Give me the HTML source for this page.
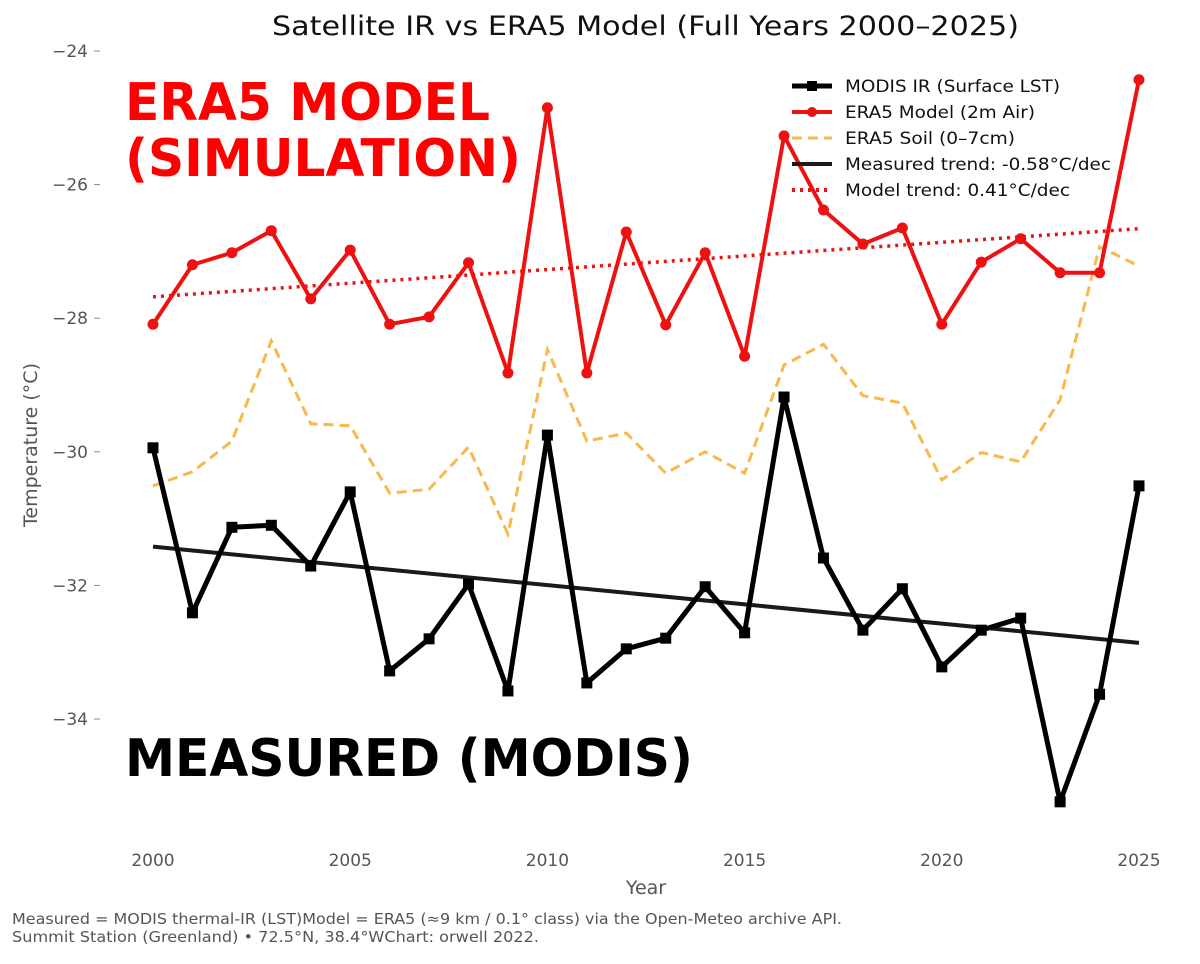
<!DOCTYPE html>
<html><head><meta charset="utf-8"><style>
body{margin:0;background:#fff;}
svg text{font-family:"DejaVu Sans","Liberation Sans",sans-serif;}
</style></head><body>
<svg id="chart" width="1200" height="959" viewBox="0 0 1200 959">
<text x="272" y="35" font-size="27" textLength="747" lengthAdjust="spacingAndGlyphs" fill="#111">Satellite IR vs ERA5 Model (Full Years 2000–2025)</text>
<g id="axes"></g>
<g id="series"></g>
<text x="125" y="120" font-size="52" font-weight="bold" textLength="365" lengthAdjust="spacingAndGlyphs" fill="#ff0000">ERA5 MODEL</text>
<text x="125" y="176" font-size="52" font-weight="bold" textLength="396" lengthAdjust="spacingAndGlyphs" fill="#ff0000">(SIMULATION)</text>
<text x="125" y="776" font-size="52" font-weight="bold" textLength="568" lengthAdjust="spacingAndGlyphs" fill="#000">MEASURED (MODIS)</text>
<text x="646" y="894" font-size="19" text-anchor="middle" fill="#555">Year</text>
<text transform="translate(37,445) rotate(-90)" font-size="19" text-anchor="middle" fill="#555">Temperature (°C)</text>
<text x="12" y="924" font-size="15" textLength="830" lengthAdjust="spacingAndGlyphs" fill="#555">Measured = MODIS thermal-IR (LST)Model = ERA5 (≈9 km / 0.1° class) via the Open-Meteo archive API.</text>
<text x="12" y="942" font-size="15" textLength="527" lengthAdjust="spacingAndGlyphs" fill="#555">Summit Station (Greenland) • 72.5°N, 38.4°WChart: orwell 2022.</text>
<g>
<line x1="792" y1="86" x2="832" y2="86" stroke="#000" stroke-width="5"/><rect x="807" y="81" width="10" height="10" fill="#000"/>
<text x="845" y="92" font-size="17" textLength="215" lengthAdjust="spacingAndGlyphs" fill="#111">MODIS IR (Surface LST)</text>
<line x1="792" y1="112" x2="832" y2="112" stroke="#ee1111" stroke-width="4"/><circle cx="812" cy="112" r="5" fill="#ee1111"/>
<text x="845" y="118" font-size="17" textLength="190" lengthAdjust="spacingAndGlyphs" fill="#111">ERA5 Model (2m Air)</text>
<line x1="792" y1="138" x2="832" y2="138" stroke="#f8b84a" stroke-width="3" stroke-dasharray="10,6"/>
<text x="845" y="144" font-size="17" textLength="170" lengthAdjust="spacingAndGlyphs" fill="#111">ERA5 Soil (0–7cm)</text>
<line x1="792" y1="164" x2="832" y2="164" stroke="#1a1a1a" stroke-width="4"/>
<text x="845" y="170" font-size="17" textLength="266" lengthAdjust="spacingAndGlyphs" fill="#111">Measured trend: -0.58°C/dec</text>
<line x1="792" y1="190" x2="832" y2="190" stroke="#ee1111" stroke-width="4" stroke-dasharray="3,5"/>
<text x="845" y="196" font-size="17" textLength="225" lengthAdjust="spacingAndGlyphs" fill="#111">Model trend: 0.41°C/dec</text>
</g>
</svg>
<script>
const years=[2000,2001,2002,2003,2004,2005,2006,2007,2008,2009,2010,2011,2012,2013,2014,2015,2016,2017,2018,2019,2020,2021,2022,2023,2024,2025];
const modis=[-29.94,-32.41,-31.13,-31.10,-31.71,-30.60,-33.28,-32.80,-31.98,-33.58,-29.75,-33.46,-32.95,-32.79,-32.02,-32.71,-29.18,-31.59,-32.67,-32.05,-33.22,-32.67,-32.49,-35.24,-33.63,-30.51];
const era5Air=[-28.09,-27.20,-27.02,-26.69,-27.71,-26.98,-28.09,-27.98,-27.17,-28.82,-24.85,-28.82,-26.71,-28.10,-27.02,-28.57,-25.27,-26.38,-26.89,-26.65,-28.09,-27.16,-26.81,-27.32,-27.32,-24.43];
const era5Soil=[-30.51,-30.30,-29.84,-28.34,-29.58,-29.61,-30.62,-30.56,-29.93,-31.23,-28.47,-29.84,-29.72,-30.32,-30.00,-30.32,-28.70,-28.39,-29.16,-29.27,-30.42,-30.01,-30.15,-29.22,-26.93,-27.22];
const measuredTrend=[-31.42,-32.86];
const modelTrend=[-27.68,-26.66];
const xTicks=[2000,2005,2010,2015,2020,2025];
const yTicks=[-24,-26,-28,-30,-32,-34];
const X=v=>153+(v-2000)*39.44;
const Y=v=>51+(-24-v)*66.8;
const NS='http://www.w3.org/2000/svg';
const ax=document.getElementById('axes'),sr=document.getElementById('series');
function mk(p,t,a){const e=document.createElementNS(NS,t);for(const k in a)e.setAttribute(k,a[k]);p.appendChild(e);return e;}
xTicks.forEach(t=>{const e=mk(ax,'text',{x:X(t),y:866,'font-size':17,'text-anchor':'middle',fill:'#555'});e.textContent=t;

});
yTicks.forEach(t=>{const e=mk(ax,'text',{x:88,y:Y(t)+6,'font-size':17,'text-anchor':'end',fill:'#555'});e.textContent='−'+Math.abs(t);


const l=mk(ax,'line',{x1:94,x2:100,y1:Y(t),y2:Y(t),stroke:'#888','stroke-width':1});

});
function line(vals,attrs,name){const pts=vals.map((v,i)=>X(years[i])+','+Y(v)).join(' ');const e=mk(sr,'polyline',Object.assign({points:pts,fill:'none'},attrs));

return e;}
line(era5Soil,{stroke:'#f8b84a','stroke-width':3,'stroke-dasharray':'10,6'},'era5-soil-line');
const mt=mk(sr,'line',{x1:X(2000),y1:Y(measuredTrend[0]),x2:X(2025),y2:Y(measuredTrend[1]),stroke:'#1a1a1a','stroke-width':4});


const ot=mk(sr,'line',{x1:X(2000),y1:Y(modelTrend[0]),x2:X(2025),y2:Y(modelTrend[1]),stroke:'#ee1111','stroke-width':3.5,'stroke-dasharray':'3,5'});


line(era5Air,{stroke:'#ee1111','stroke-width':4,'stroke-linejoin':'round'},'era5-air-line');
era5Air.forEach((v,i)=>{const c=mk(sr,'circle',{cx:X(years[i]),cy:Y(v),r:5.5,fill:'#ee1111'});

});
line(modis,{stroke:'#000','stroke-width':5,'stroke-linejoin':'round'},'modis-line');
modis.forEach((v,i)=>{const r=mk(sr,'rect',{x:X(years[i])-5.5,y:Y(v)-5.5,width:11,height:11,fill:'#000'});

});
</script>
</body></html>
